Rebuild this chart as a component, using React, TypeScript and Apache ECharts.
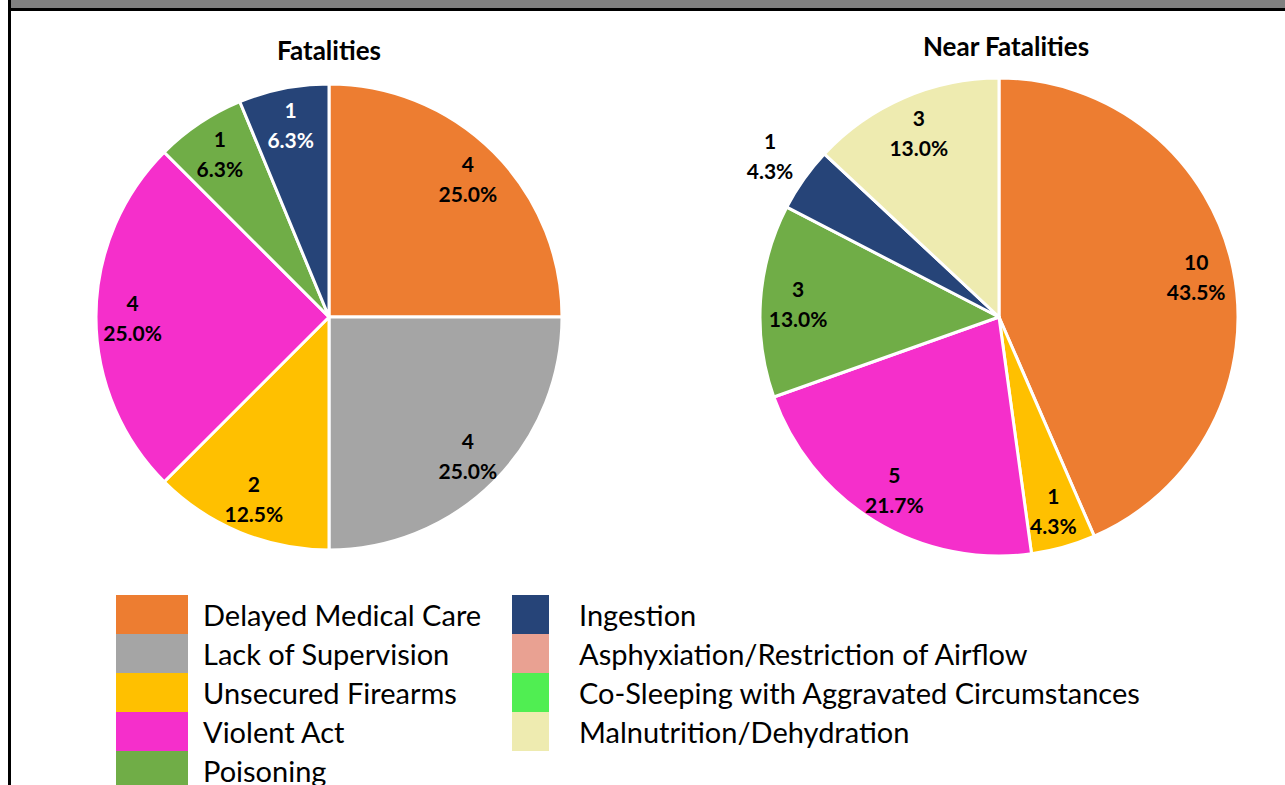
import React, { useEffect, useRef } from "react";
import * as echarts from "echarts";

const categories = [
  "Delayed Medical Care",
  "Lack of Supervision",
  "Unsecured Firearms",
  "Violent Act",
  "Poisoning",
  "Ingestion",
  "Asphyxiation/Restriction of Airflow",
  "Co-Sleeping with Aggravated Circumstances",
  "Malnutrition/Dehydration",
];
const colors = [
  "#ED7D31",
  "#A5A5A5",
  "#FFC000",
  "#F52FCB",
  "#70AD47",
  "#264478",
  "#E9A192",
  "#50EE52",
  "#EEEBB0",
];
const fatalities = [4, 4, 2, 4, 1, 1, 0, 0, 0];
const nearFatalities = [10, 0, 1, 5, 3, 1, 0, 0, 3];
const legendCol1 = categories.slice(0, 5);
const legendCol2 = categories.slice(5);

const FONT = "Lato";

function pieSeries(
  values: number[],
  center: [number, number],
  R: number,
  outside: string[],
  white: string[]
) {
  const total = values.reduce((a, b) => a + b, 0);
  const fmt = (p: any) =>
    `${p.value}\n${((p.value / total) * 100).toFixed(1)}%`;
  const base = {
    type: "pie",
    center,
    startAngle: 90,
    clockwise: true,
    avoidLabelOverlap: false,
    silent: true,
    emphasis: { disabled: true },
    labelLine: { show: false },
  };
  const visible = {
    ...base,
    radius: R,
    label: { show: false },
    data: categories.map((name, i) => ({
      name,
      value: values[i],
      itemStyle: {
        color: colors[i],
        borderColor: "#ffffff",
        borderWidth: values[i] > 0 ? 3 : 0,
      },
    })),
  };
  const labelStyle = (name: string) => ({
    position: "inside",
    formatter: fmt,
    fontFamily: FONT,
    fontWeight: "bold",
    fontSize: 21,
    lineHeight: 30,
    color: white.includes(name) ? "#ffffff" : "#000000",
  });
  const inner = {
    ...base,
    radius: [R * 0.66, R],
    data: categories.map((name, i) => ({
      name,
      value: values[i],
      itemStyle: { color: "rgba(0,0,0,0)", borderWidth: 0 },
      label: {
        show: values[i] > 0 && !outside.includes(name),
        ...labelStyle(name),
      },
    })),
  };
  const outer = {
    ...base,
    radius: [R, R * 1.32],
    data: categories.map((name, i) => ({
      name,
      value: values[i],
      itemStyle: { color: "rgba(0,0,0,0)", borderWidth: 0 },
      label: {
        show: values[i] > 0 && outside.includes(name),
        ...labelStyle(name),
      },
    })),
  };
  return [visible, inner, outer];
}

export default function App() {
  const ref = useRef<HTMLDivElement>(null);
  useEffect(() => {
    if (!ref.current) return;
    const chart = echarts.init(ref.current, undefined, { renderer: "svg" });
    const legendBase = {
      orient: "vertical",
      icon: "rect",
      itemHeight: 39,
      itemGap: 0,
      padding: 0,
      height: 300,
      selectedMode: false,
      top: 595,
      itemStyle: { borderWidth: 0 },
      textStyle: { fontFamily: FONT, fontSize: 29, lineHeight: 36, color: "#000000" },
    };
    chart.setOption({
      animation: false,
      backgroundColor: "#ffffff",
      title: [
        {
          text: "Fatalities",
          left: 329,
          top: 37,
          padding: 0,
          textAlign: "center",
          textStyle: { fontFamily: FONT, fontWeight: "bold", fontSize: 26, color: "#000" },
        },
        {
          text: "Near Fatalities",
          left: 1006,
          top: 33,
          padding: 0,
          textAlign: "center",
          textStyle: { fontFamily: FONT, fontWeight: "bold", fontSize: 26, color: "#000" },
        },
      ],
      legend: [
        {
          ...legendBase,
          left: 116,
          itemWidth: 72,
          data: legendCol1,
          textStyle: { ...legendBase.textStyle, padding: [0, 0, 0, 10] },
        },
        {
          ...legendBase,
          left: 512,
          itemWidth: 37,
          data: legendCol2,
          textStyle: { ...legendBase.textStyle, padding: [0, 0, 0, 25] },
        },
      ],
      graphic: [
        { type: "rect", shape: { x: 11, y: 0, width: 1274, height: 8 }, style: { fill: "#808080" } },
        { type: "rect", shape: { x: 8, y: 8, width: 1277, height: 3 }, style: { fill: "#000000" } },
        { type: "rect", shape: { x: 8, y: 0, width: 3, height: 785 }, style: { fill: "#000000" } },
      ],
      series: [
        ...pieSeries(fatalities, [329, 317], 233, [], ["Ingestion"]),
        ...pieSeries(nearFatalities, [999, 317], 239, ["Ingestion"], []),
      ],
    });
    return () => chart.dispose();
  }, []);
  return (
    <div
      ref={ref}
      style={{ position: "fixed", left: 0, top: 0, width: 1285, height: 785 }}
    />
  );
}
